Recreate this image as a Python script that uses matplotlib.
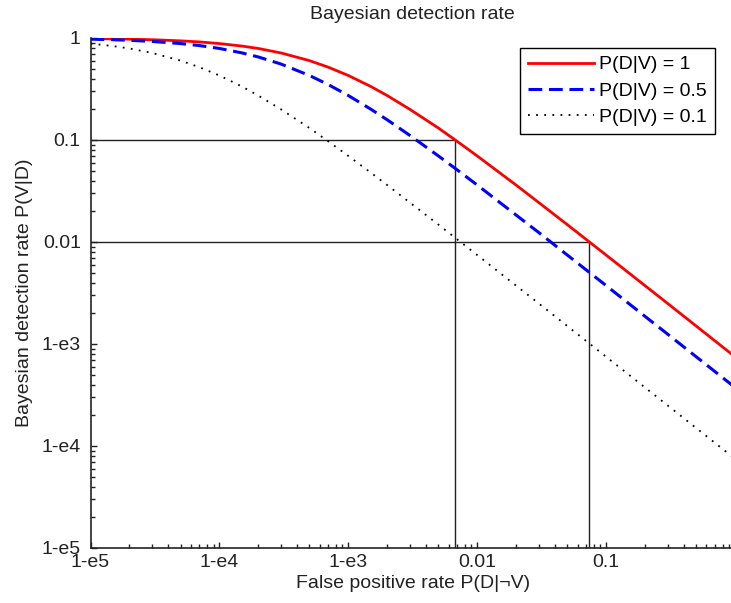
import numpy as np
import matplotlib
matplotlib.use('Agg')
import matplotlib.pyplot as plt
from matplotlib.ticker import FixedLocator, FixedFormatter, LogLocator, NullFormatter

plt.rcParams['font.family'] = ['Liberation Sans', 'DejaVu Sans']

# False positive rate P(D|~V) sample points
fpr = [1e-5, 1.5e-5, 2e-5, 3e-5, 5e-5, 7e-5,
       1e-4, 1.5e-4, 2e-4, 3e-4, 5e-4, 7e-4,
       1e-3, 1.5e-3, 2e-3, 3e-3, 5e-3, 7e-3,
       1e-2, 2e-2, 3e-2, 5e-2, 0.1, 0.2, 0.3, 0.5, 1.0]

# Bayesian detection rate P(V|D) for each curve
rate_d1 = [0.987, 0.980, 0.974, 0.962, 0.938, 0.915,
           0.882, 0.833, 0.790, 0.714, 0.600, 0.517,
           0.429, 0.334, 0.273, 0.200, 0.131, 0.0968,
           0.0698, 0.0362, 0.0244, 0.0148, 0.00745, 0.00374,
           0.00250, 0.00150, 0.00075]
rate_d05 = [0.974, 0.962, 0.949, 0.926, 0.882, 0.843,
            0.790, 0.714, 0.652, 0.556, 0.429, 0.349,
            0.273, 0.200, 0.158, 0.111, 0.0698, 0.0509,
            0.0362, 0.0184, 0.0124, 0.00745, 0.00374, 0.00187,
            0.00125, 0.00075, 0.000375]
rate_d01 = [0.882, 0.833, 0.790, 0.714, 0.600, 0.517,
            0.429, 0.334, 0.273, 0.200, 0.131, 0.0968,
            0.0698, 0.0477, 0.0362, 0.0244, 0.0148, 0.0106,
            0.00745, 0.00374, 0.00250, 0.00150, 0.00075, 0.000375,
            0.00025, 0.00015, 0.000075]

labels = ['P(D|V) = 1', 'P(D|V) = 0.5', 'P(D|V) = 0.1']

# reference crossings of the P(D|V) = 1 curve
ref_fpr = [0.0067, 0.0731]
ref_rate = [0.1, 0.01]

tick_vals = [1e-5, 1e-4, 1e-3, 1e-2, 1e-1, 1]
tick_text = ['1-e5', '1-e4', '1-e3', '0.01', '0.1', '1']

W, H = 731, 603
fig = plt.figure(figsize=(W / 100, H / 100), dpi=100)
# axes runs slightly past the right edge, as in the cropped original
ax = fig.add_axes([90.5 / W, 1 - 548 / H, (735 - 90.5) / W, (548 - 38) / H])

# reference lines
for fx, ry in zip(ref_fpr, ref_rate):
    ax.plot([1e-5, fx, fx], [ry, ry, 1e-5], color='#222222', lw=1.0, zorder=1)

ax.plot(fpr, rate_d1, color='red', lw=2.0, label=labels[0], zorder=3)
ax.plot(fpr, rate_d05, color='blue', lw=2.2, dashes=(4.5, 2.2), label=labels[1], zorder=3)
ax.plot(fpr, rate_d01, color='black', lw=1.3, dashes=(1, 3.5), label=labels[2], zorder=3)

ax.set_xscale('log')
ax.set_yscale('log')
ax.set_xlim(1e-5, 1)
ax.set_ylim(1e-5, 1)

for axis in (ax.xaxis, ax.yaxis):
    axis.set_major_locator(FixedLocator(tick_vals))
    axis.set_major_formatter(FixedFormatter(tick_text))
    axis.set_minor_locator(LogLocator(base=10, subs=np.arange(2, 10), numticks=20))
    axis.set_minor_formatter(NullFormatter())

ax.tick_params(which='both', direction='in', labelsize=14, colors='#222222')
ax.tick_params(axis='y', pad=7)
ax.tick_params(axis='x', pad=4)
ax.tick_params(which='major', length=4, width=1)
ax.tick_params(which='minor', length=3, width=1)
ax.spines['top'].set_visible(False)
ax.spines['right'].set_visible(False)
for s in ('left', 'bottom'):
    ax.spines[s].set_linewidth(1.2)
    ax.spines[s].set_color('#222222')

ax.set_title('Bayesian detection rate', fontsize=14, color='#222222', pad=14)
ax.set_xlabel('False positive rate P(D|\u00acV)', fontsize=14, color='#222222', labelpad=3)
ax.set_ylabel('Bayesian detection rate P(V|D)', fontsize=14, color='#222222', labelpad=6)

leg = ax.legend(loc='upper right', bbox_to_anchor=(715 / W, 1 - 48 / H),
                bbox_transform=fig.transFigure, fontsize=14, frameon=True,
                fancybox=False, edgecolor='black', framealpha=1,
                handlelength=3.4, handletextpad=0.3, borderpad=0.4,
                labelspacing=0.45, borderaxespad=0)
leg.get_frame().set_linewidth(1.0)

fig.savefig('out.png', dpi=100)
